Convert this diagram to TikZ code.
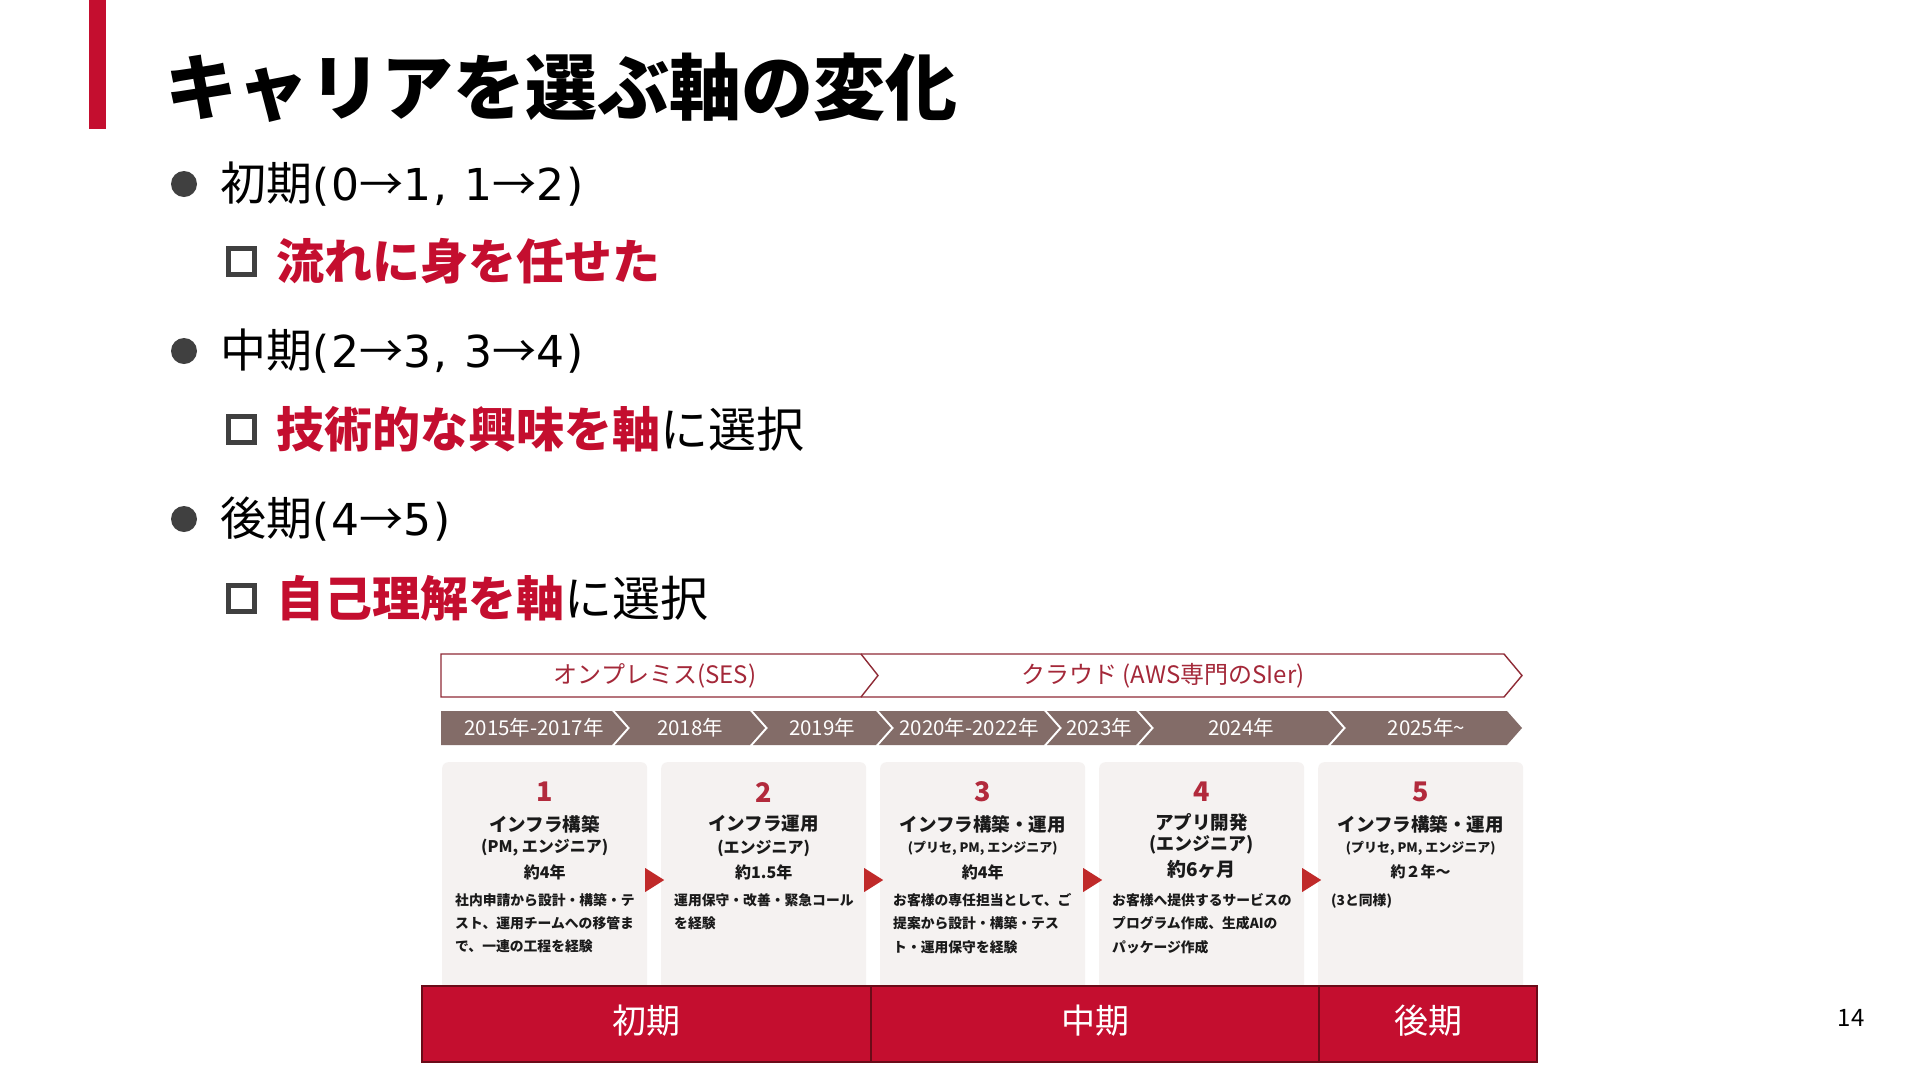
\documentclass[tikz,border=0pt]{standalone}
\usepackage{fontspec}
\setmainfont{Noto Sans CJK JP}
\newfontfamily\widelatin{DejaVu Sans}[LetterSpace=5]
\usetikzlibrary{positioning,calc}

\definecolor{accent}{HTML}{C40E2F}
\definecolor{markgray}{HTML}{404040}
\definecolor{yearbrown}{HTML}{836C68}
\definecolor{eraline}{HTML}{8F2B36}
\definecolor{eratxt}{HTML}{A42839}
\definecolor{cardgray}{HTML}{F5F2F1}
\definecolor{numred}{HTML}{B22A3C}
\definecolor{ink}{HTML}{1A1A1A}
\definecolor{trired}{HTML}{C02A2A}
\definecolor{phaseline}{HTML}{6A0B18}

\newcommand{\steps}[1]{{\widelatin\fontsize{44}{55}\selectfont #1}}
\newcommand{\arr}{{\rmfamily →}}

\begin{document}
\begin{tikzpicture}[
  x=1pt,y=-1pt,
  lbl/.style={inner sep=0pt},
  bulletdot/.style={circle,fill=markgray,minimum size=26pt,inner sep=0pt},
  sqbox/.style={draw=markgray,line width=5pt,minimum size=26pt,inner sep=0pt},
  btext/.style={lbl,font=\fontsize{46}{55}\selectfont},
  stext/.style={lbl,font=\fontsize{48}{58}\selectfont},
  yearbox/.style={fill=yearbrown},
  yeartext/.style={lbl,text=white,font=\fontsize{20.5}{24}\selectfont},
  era/.style={draw=eraline,line width=1.4pt},
  eratext/.style={lbl,text=eratxt,font=\fontsize{24}{28}\selectfont},
  card/.style={fill=cardgray,rounded corners=6pt,minimum width=205pt,minimum height=228pt,anchor=north west,inner sep=0pt},
  num/.style={lbl,text=numred,font=\bfseries\fontsize{27}{30}\selectfont},
  role/.style={lbl,text=ink,font=\bfseries\fontsize{18.5}{22}\selectfont},
  rolesub/.style={lbl,text=ink,font=\bfseries\fontsize{#1}{20}\selectfont},
  rolesub/.default=16,
  desc/.style={lbl,text=ink,align=left,anchor=north west,font=\bfseries\fontsize{13.8}{23.4}\selectfont},
  tri/.style={fill=trired},
  phasebar/.style={draw=phaseline,line width=1.5pt,fill=accent,text=white,minimum height=76pt,inner sep=0pt,font=\fontsize{34}{40}\selectfont},
]
  \useasboundingbox[fill=white] (0,0) rectangle (1920,1080);

  % Title with red side bar.
  \fill[accent] (89,0) rectangle (106,129);
  \node[lbl,anchor=west,font=\bfseries\fontsize{72}{80}\selectfont] (title) at (165,88) {キャリアを選ぶ軸の変化};

  % Bullet list.
  \node[bulletdot] (d1) at (184,184) {};
  \node[btext,right=23pt of d1] (b1) {初期\steps{(0\arr1, 1\arr2)}};
  \node[sqbox] (q1) at (241,261) {};
  \node[stext,right=20pt of q1] (t1) {\textbf{\color{accent}流れに身を任せた}};

  \node[bulletdot] (d2) at (184,351) {};
  \node[btext,right=23pt of d2] (b2) {中期\steps{(2\arr3, 3\arr4)}};
  \node[sqbox] (q2) at (241,429) {};
  \node[stext,right=20pt of q2] (t2) {\textbf{\color{accent}技術的な興味を軸}に選択};

  \node[bulletdot] (d3) at (184,519) {};
  \node[btext,right=23pt of d3] (b3) {後期\steps{(4\arr5)}};
  \node[sqbox] (q3) at (241,598) {};
  \node[stext,right=20pt of q3] (t3) {\textbf{\color{accent}自己理解を軸}に選択};

  % Era band.
  \draw[era] (441,654) -- (861,654) -- (878,675.5) -- (861,697) -- (441,697) -- cycle;
  \draw[era] (861,654) -- (1504,654) -- (1522,675.5) -- (1504,697) -- (861,697);
  \node[eratext] (era1) at (655,675.5) {オンプレミス(SES)};
  \node[eratext] (era2) at (1163,675.5) {クラウド (AWS専門のSIer)};

  % Year chevrons.
  \foreach \xl/\xr/\yr [count=\i] in {441/627/2015年-2017年,615/765/2018年,753/891/2019年,879/1059/2020年-2022年,1047/1151/2023年,1139/1343/2024年,1331/1522/2025年\textasciitilde} {
    \pgfmathsetmacro{\nd}{\i>1 ? 15 : 0}
    \fill[yearbox] (\xl,711) -- (\xr-15,711) -- (\xr,728) -- (\xr-15,745) -- (\xl,745) -- (\xl+\nd,728) -- cycle;
    \node[yeartext] (yr\i) at ({(\xl+\xr)/2},728) {\yr};
  }

  % Cards.
  \foreach \cx [count=\i] in {442,661,880,1099,1318}
    \node[card] (c\i) at (\cx,762) {};

  \node[num] (c1num) at ([yshift=-30pt]c1.north) {1};
  \node[role] (c1role) at ([yshift=-62pt]c1.north) {インフラ構築};
  \node[rolesub] (c1sub) at ([yshift=-86pt]c1.north) {(PM, エンジニア)};
  \node[rolesub] (c1dur) at ([yshift=-110pt]c1.north) {約4年};
  \node[desc] (c1desc) at ([xshift=13pt,yshift=-131pt]c1.north west) {社内申請から設計・構築・テ\\スト、運用チームへの移管ま\\で、一連の工程を経験};

  \node[num] (c2num) at ([yshift=-30pt]c2.north) {2};
  \node[role] (c2role) at ([yshift=-62pt]c2.north) {インフラ運用};
  \node[rolesub] (c2sub) at ([yshift=-86pt]c2.north) {(エンジニア)};
  \node[rolesub] (c2dur) at ([yshift=-110pt]c2.north) {約1.5年};
  \node[desc] (c2desc) at ([xshift=13pt,yshift=-131pt]c2.north west) {運用保守・改善・緊急コール\\を経験};

  \node[num] (c3num) at ([yshift=-30pt]c3.north) {3};
  \node[role] (c3role) at ([yshift=-62pt]c3.north) {インフラ構築・運用};
  \node[rolesub=13] (c3sub) at ([yshift=-86pt]c3.north) {(プリセ, PM, エンジニア)};
  \node[rolesub] (c3dur) at ([yshift=-110pt]c3.north) {約4年};
  \node[desc] (c3desc) at ([xshift=13pt,yshift=-131pt]c3.north west) {お客様の専任担当として、ご\\提案から設計・構築・テス\\ト・運用保守を経験};

  \node[num] (c4num) at ([yshift=-30pt]c4.north) {4};
  \node[role] (c4role) at ([yshift=-60pt]c4.north) {アプリ開発};
  \node[rolesub=18] (c4sub) at ([yshift=-83pt]c4.north) {(エンジニア)};
  \node[rolesub=19] (c4dur) at ([yshift=-107pt]c4.north) {約6ヶ月};
  \node[desc] (c4desc) at ([xshift=13pt,yshift=-131pt]c4.north west) {お客様へ提供するサービスの\\プログラム作成、生成AIの\\パッケージ作成};

  \node[num] (c5num) at ([yshift=-30pt]c5.north) {5};
  \node[role] (c5role) at ([yshift=-62pt]c5.north) {インフラ構築・運用};
  \node[rolesub=13] (c5sub) at ([yshift=-86pt]c5.north) {(プリセ, PM, エンジニア)};
  \node[rolesub=15] (c5dur) at ([yshift=-110pt]c5.north) {約２年～};
  \node[desc] (c5desc) at ([xshift=13pt,yshift=-131pt]c5.north west) {(3と同様)};

  % Step markers between cards.
  \foreach \a/\b in {c1/c2,c2/c3,c3/c4,c4/c5} {
    \coordinate (m) at ($(\a.north east)!0.5!(\b.north west)+(0,-118pt)$);
    \fill[tri] ([xshift=-9pt,yshift=12pt]m) -- ([xshift=10pt]m) -- ([xshift=-9pt,yshift=-12pt]m) -- cycle;
  }

  % Phase bars.
  \node[phasebar,minimum width=449pt] (ph1) at (646.5,1024) {\raisebox{-9pt}[0pt][0pt]{初期}};
  \node[phasebar,minimum width=448pt] (ph2) at (1095,1024) {\raisebox{-9pt}[0pt][0pt]{中期}};
  \node[phasebar,minimum width=218pt] (ph3) at (1428,1024) {\raisebox{-9pt}[0pt][0pt]{後期}};

  \node[lbl,font=\fontsize{24}{28}\selectfont] (page) at (1851,1018) {14};
\end{tikzpicture}
\end{document}
